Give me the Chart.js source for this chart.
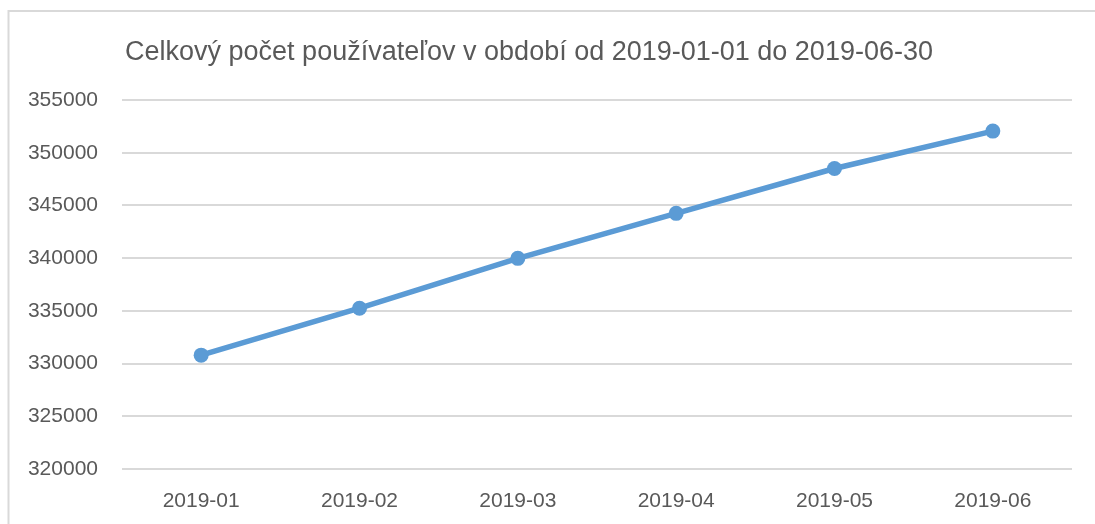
<!DOCTYPE html>
<html>
<head>
<meta charset="utf-8">
<script src="https://cdn.jsdelivr.net/npm/chart.js@4/dist/chart.umd.min.js"></script>
<style>
  html, body { margin: 0; padding: 0; background: #ffffff; }
  #wrap { width: 1095px; height: 524px; position: relative; }
</style>
</head>
<body>
<div id="wrap"><canvas id="c"></canvas></div>
<script>
const titleText = 'Celkový počet používateľov v období od 2019-01-01 do 2019-06-30';
const categories = ['2019-01', '2019-02', '2019-03', '2019-04', '2019-05', '2019-06'];
const users = [330800, 335250, 339980, 344250, 348500, 352050];
const yMin = 320000;
const yMax = 355000;
const yStep = 5000;

const frame = {
  id: 'frame',
  beforeDraw(chart) {
    const ctx = chart.ctx;
    ctx.save();
    ctx.strokeStyle = '#d9d9d9';
    ctx.lineWidth = 2;
    ctx.beginPath();
    ctx.moveTo(8.5, 524);
    ctx.lineTo(8.5, 11);
    ctx.lineTo(1095, 11);
    ctx.stroke();
    ctx.restore();
  }
};

const titleShift = {
  id: 'titleShift',
  afterLayout(chart) {
    if (chart.titleBlock) {
      chart.titleBlock.left = 0;
      chart.titleBlock.right = 1058;
    }
  }
};

new Chart(document.getElementById('c'), {
  type: 'line',
  data: {
    labels: categories,
    datasets: [{
      data: users,
      borderColor: '#5B9BD5',
      backgroundColor: '#5B9BD5',
      borderWidth: 5.5,
      pointRadius: 7.5,
      pointHoverRadius: 7.5,
      pointBorderWidth: 0,
      tension: 0,
      fill: false
    }]
  },
  options: {
    responsive: true,
    maintainAspectRatio: false,
    animation: false,
    layout: { padding: { left: 0, right: 23, top: 0, bottom: 0 } },
    plugins: {
      legend: { display: false },
      tooltip: { enabled: false },
      title: {
        display: true,
        text: titleText,
        color: '#595959',
        font: { family: 'Liberation Sans', size: 27, weight: 'normal' },
        padding: { top: 36, bottom: 31.6 }
      }
    },
    scales: {
      x: {
        offset: true,
        grid: { display: false, drawTicks: false },
        border: { display: false },
        ticks: {
          color: '#595959',
          font: { family: 'Liberation Sans', size: 21 },
          padding: 20,
          maxRotation: 0
        },
        afterFit(scale) { scale.height = 55; }
      },
      y: {
        min: yMin,
        max: yMax,
        grid: { color: '#d9d9d9', lineWidth: 2, drawTicks: false },
        border: { display: false },
        ticks: {
          stepSize: yStep,
          color: '#595959',
          font: { family: 'Liberation Sans', size: 21 },
          padding: 24,
          callback: (v) => String(v)
        },
        afterFit(scale) { scale.width = 122; }
      }
    }
  },
  plugins: [frame, titleShift]
});
</script>
</body>
</html>
